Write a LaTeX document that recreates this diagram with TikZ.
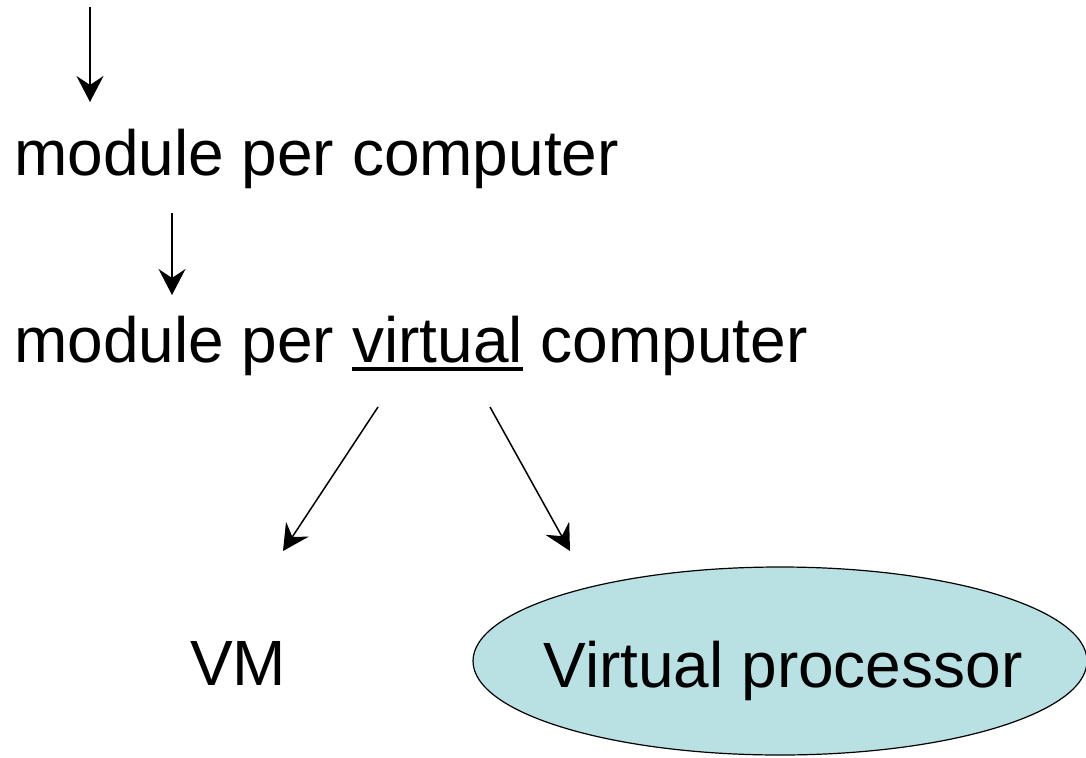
\documentclass[tikz,border=0pt]{standalone}
\usepackage{fontspec}
\setmainfont{Liberation Sans}
\usetikzlibrary{arrows.meta, shapes.geometric, positioning}
\definecolor{vpteal}{RGB}{185,224,227}
\newlength\ulwd
\newcommand\thickul[1]{\settowidth\ulwd{#1}\rlap{\rule[-8.5pt]{\ulwd}{3.5pt}}#1}

\begin{document}
\begin{tikzpicture}[
    x=1pt, y=-1pt,
    lbl/.style={inner sep=0pt, font=\fontsize{64}{77}\selectfont},
    arrow/.style={-{Stealth[length=26pt, width=27pt, inset=9pt]}, line width=1.5pt},
    vpbox/.style={ellipse, draw=black, line width=1.2pt, fill=vpteal, minimum width=614pt, minimum height=188pt}
]
\useasboundingbox (0,0) rectangle (1086,757);
% text lines
\node[lbl, anchor=base west] (mpc) at (14,175) {module per computer};
\node[lbl, anchor=base west] (mpvc) at (14,362) {module per \thickul{virtual} computer};
\node[lbl, anchor=base] (vm) at (238,685) {VM};
\node[vpbox] (vp) at (780,661) {};
\node[lbl, anchor=base] (vptxt) at (783,687) {Virtual processor};
% arrow ends
\coordinate (a1s) at (90,7);
\coordinate (a1e) at (90,102);
\coordinate (a2s) at (172,213);
\coordinate (a2e) at (172,295);
\coordinate (a3s) at (378,407);
\coordinate (a3e) at (283,551);
\coordinate (a4s) at (490,407);
\coordinate (a4e) at (570,551);
\draw[arrow] (a1s) -- (a1e);
\draw[arrow] (a2s) -- (a2e);
\draw[arrow] (a3s) -- (a3e);
\draw[arrow] (a4s) -- (a4e);
\end{tikzpicture}
\end{document}
